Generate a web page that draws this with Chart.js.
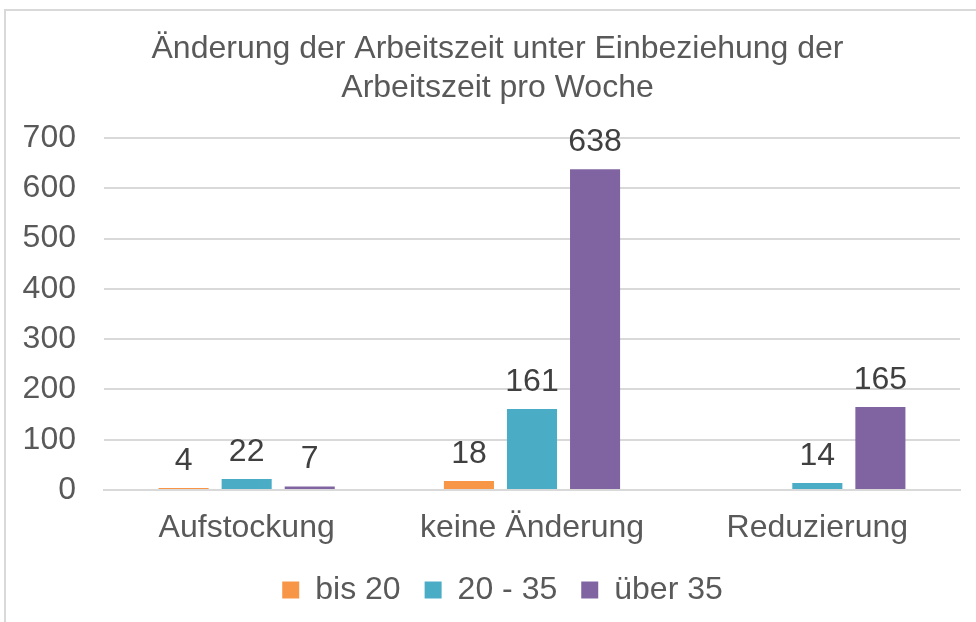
<!DOCTYPE html>
<html>
<head>
<meta charset="utf-8">
<script src="https://cdn.jsdelivr.net/npm/chart.js@4.4.1/dist/chart.umd.min.js"></script>
<style>
  html, body { margin: 0; padding: 0; background: #fff; overflow: hidden; }
  #frame {
    position: absolute; left: 4px; top: 9px; width: 990px; height: 640px;
    border: 2px solid #d9d9d9; box-sizing: border-box;
  }
  #chart { position: absolute; left: 5px; top: 10px; }
</style>
</head>
<body>
<div id="frame"></div>
<canvas id="chart" width="985" height="612"></canvas>
<script>
  var categories = ['Aufstockung', 'keine Änderung', 'Reduzierung'];
  var seriesNames = ['bis 20', '20 - 35', 'über 35'];
  var bis20 = [4, 18, null];
  var von20bis35 = [22, 161, 14];
  var ueber35 = [7, 638, 165];
  var yTicks = [0, 100, 200, 300, 400, 500, 600, 700];
  var colors = ['#F79646', '#4BACC6', '#8064A2'];

  var font = 'Liberation Sans, Arial, sans-serif';

  // draws the value above each bar
  var valueLabels = {
    id: 'valueLabels',
    afterDatasetsDraw: function (chart) {
      var ctx = chart.ctx;
      ctx.save();
      ctx.font = '32px ' + font;
      ctx.fillStyle = '#404040';
      ctx.textAlign = 'center';
      ctx.textBaseline = 'middle';
      chart.data.datasets.forEach(function (ds, i) {
        var meta = chart.getDatasetMeta(i);
        meta.data.forEach(function (bar, j) {
          var v = ds.data[j];
          if (v === null || v === undefined) return;
          ctx.fillText(String(v), bar.x, bar.y - 27);
        });
      });
      ctx.restore();
    }
  };

  // title and legend are centred on the whole frame, not on the padded box
  var centerBlocks = {
    id: 'centerBlocks',
    afterLayout: function (chart) {
      if (chart.titleBlock) { chart.titleBlock.left = 0; chart.titleBlock.right = chart.width; }
      if (chart.legend) { chart.legend.left = 0; chart.legend.right = chart.width + 10; }
    }
  };

  var series = [bis20, von20bis35, ueber35];

  new Chart(document.getElementById('chart').getContext('2d'), {
    type: 'bar',
    data: {
      labels: categories,
      datasets: series.map(function (d, i) {
        return {
          label: seriesNames[i],
          data: d,
          backgroundColor: colors[i],
          borderWidth: 0,
          categoryPercentage: 0.663,
          barPercentage: 0.794
        };
      })
    },
    plugins: [valueLabels, centerBlocks],
    options: {
      responsive: false,
      animation: false,
      layout: { padding: { left: 0, right: 30, top: 0, bottom: 6 } },
      plugins: {
        title: {
          display: true,
          text: ['Änderung der Arbeitszeit unter Einbeziehung der', 'Arbeitszeit pro Woche'],
          color: '#595959',
          font: { family: font, size: 32, weight: 'normal', lineHeight: 1.22 },
          padding: { top: 20, bottom: 30 }
        },
        legend: {
          position: 'bottom',
          labels: {
            color: '#595959',
            font: { family: font, size: 32 },
            boxWidth: 17,
            boxHeight: 17,
            padding: 24
          }
        },
        tooltip: { enabled: false }
      },
      scales: {
        x: {
          afterFit: function (axis) { axis.height = 60; },
          grid: { display: false },
          border: { color: '#d9d9d9', width: 2 },
          ticks: { color: '#595959', font: { family: font, size: 32 }, padding: 11 }
        },
        y: {
          min: 0,
          max: 700,
          afterBuildTicks: function (axis) {
            axis.ticks = yTicks.map(function (v) { return { value: v }; });
          },
          afterFit: function (axis) { axis.width = 99; },
          grid: { color: '#d9d9d9', lineWidth: 2, drawTicks: false },
          border: { display: false },
          ticks: { color: '#595959', font: { family: font, size: 32 }, padding: 28 }
        }
      }
    }
  });
</script>
</body>
</html>
